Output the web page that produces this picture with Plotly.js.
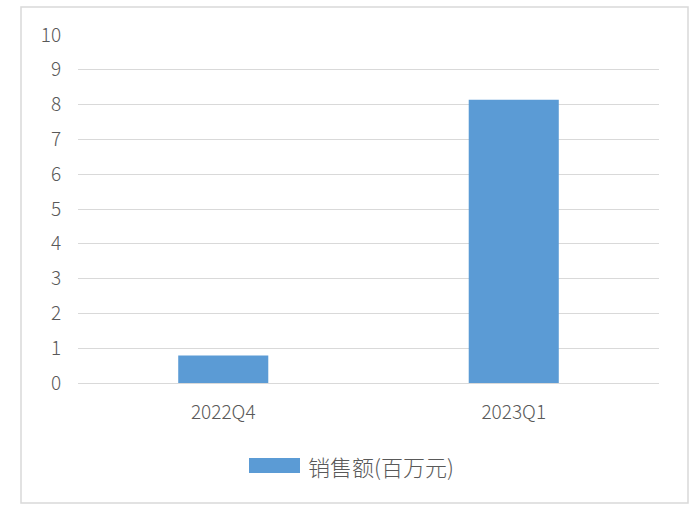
<!DOCTYPE html>
<html>
<head>
<meta charset="utf-8">
<script src="https://cdn.plot.ly/plotly-3.0.1.min.js"></script>
<style>
  html, body { margin: 0; padding: 0; background: #fff; }
  #chart { width: 700px; height: 515px; }
</style>
</head>
<body>
<div id="chart"></div>
<script>
var quarters = ["2022Q4", "2023Q1"];
var sales = [0.79, 8.14];
var seriesName = "销售额(百万元)";
var yTicks = [0, 1, 2, 3, 4, 5, 6, 7, 8, 9, 10];

// pixel -> paper helpers (plot area is 581 x 348 px)
function px(x) { return (x - 78) / 581; }
function py(y) { return (383 - y) / 348; }

function plotSales() {
  var bars = {
    x: quarters,
    y: sales,
    type: "bar",
    name: seriesName,
    marker: { color: "#5b9bd5" },
    hoverinfo: "x+y"
  };
  var layout = {
    width: 700,
    height: 515,
    margin: { l: 78, r: 41, t: 35, b: 132 },
    paper_bgcolor: "#ffffff",
    plot_bgcolor: "#ffffff",
    font: { family: "Noto Sans CJK SC, Noto Sans, sans-serif", size: 19, color: "#595959", weight: 300 },
    bargap: 0.69,
    showlegend: false,
    xaxis: {
      type: "category",
      showgrid: false,
      zeroline: false,
      showline: true,
      linecolor: "#d9d9d9",
      linewidth: 1,
      ticks: "outside",
      ticklen: 12,
      tickcolor: "rgba(0,0,0,0)",
      tickfont: { size: 19, color: "#595959", weight: 300 }
    },
    yaxis: {
      range: [0, 10],
      tickvals: yTicks,
      showgrid: true,
      gridcolor: "#d9d9d9",
      gridwidth: 1,
      zeroline: false,
      showline: false,
      ticks: "outside",
      ticklen: 12,
      tickcolor: "rgba(0,0,0,0)",
      tickfont: { size: 19, color: "#595959", weight: 300 },
      fixedrange: true
    },
    // legend drawn by hand so the swatch can be wide like the original
    annotations: [{
      xref: "paper",
      yref: "paper",
      x: px(306),
      y: py(466),
      xanchor: "left",
      yanchor: "middle",
      showarrow: false,
      text: seriesName,
      font: { size: 22, color: "#595959", weight: 300 }
    }],
    shapes: [{
      type: "rect",
      xref: "paper",
      yref: "paper",
      x0: px(249),
      x1: px(300),
      y0: py(473),
      y1: py(458),
      line: { width: 0 },
      fillcolor: "#5b9bd5"
    }, {
      type: "rect",
      xref: "paper",
      yref: "paper",
      x0: px(21),
      x1: px(688),
      y0: py(503),
      y1: py(7),
      line: { color: "#d9d9d9", width: 1.5 },
      fillcolor: "rgba(0,0,0,0)",
      layer: "below"
    }]
  };
  Plotly.newPlot("chart", [bars], layout, { displayModeBar: false, staticPlot: true });
}
plotSales();
</script>
</body>
</html>
